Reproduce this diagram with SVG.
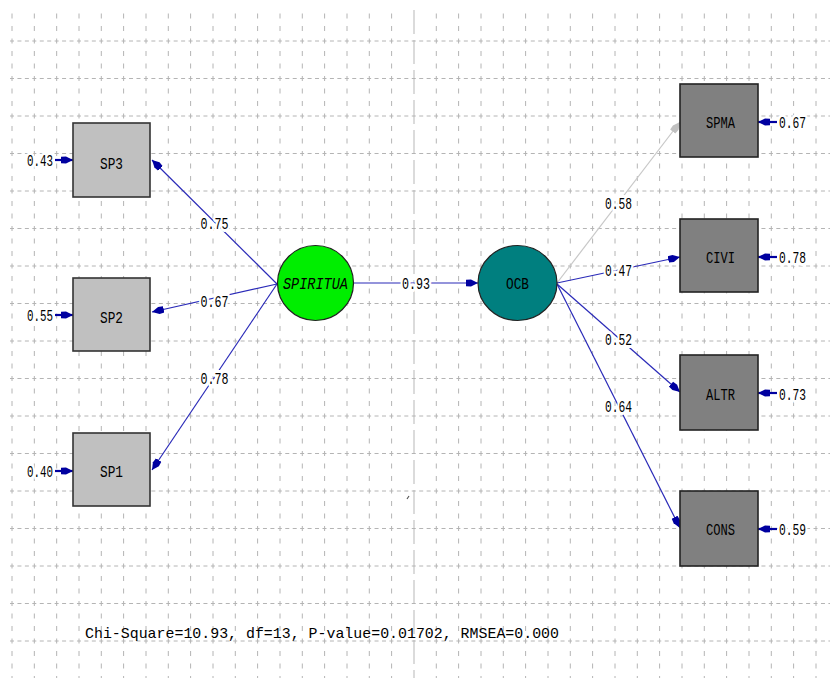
<svg xmlns="http://www.w3.org/2000/svg" width="830" height="678" viewBox="0 0 830 678">
<style>
.gv{stroke:#b4b4b4;stroke-width:1;stroke-dasharray:5 7.5;fill:none}
.gh{stroke:#b4b4b4;stroke-width:1;stroke-dasharray:4 3.44;fill:none}
.gc{stroke:#c4c4c4;stroke-width:1.2;stroke-dasharray:24 6;fill:none}
.obs1{fill:#c0c0c0;stroke:#333;stroke-width:1.6}
.obs2{fill:#808080;stroke:#222;stroke-width:1.6}
.lab{font-family:"Liberation Mono",monospace;font-size:17px;fill:#000;text-anchor:middle}
.num{font-family:"Liberation Mono",monospace;font-size:16px;fill:#000;paint-order:stroke;stroke:#fff;stroke-width:6px;stroke-linejoin:round}
.numc{text-anchor:middle}
.ln{stroke:#2a2ab8;stroke-width:1.2;fill:none;marker-end:url(#ah)}
.lng{stroke:#c8c8c8;stroke-width:1.2;fill:none;marker-end:url(#ahg)}
.er{stroke:#0000a0;stroke-width:2.2;fill:none;marker-end:url(#ah)}
</style>
<defs>
<marker id="ah" markerUnits="userSpaceOnUse" markerWidth="14" markerHeight="10" viewBox="0 -5 14 10" refX="12" refY="0" orient="auto">
<path d="M0,-3.2 L5,-3.6 L12,0 L5,3.6 L0,3.2 Z" fill="#0000a0"/>
</marker>
<marker id="ahg" markerUnits="userSpaceOnUse" markerWidth="14" markerHeight="10" viewBox="0 -5 14 10" refX="12" refY="0" orient="auto">
<path d="M0,-3.2 L5,-3.6 L12,0 L5,3.6 L0,3.2 Z" fill="#c0c0c0"/>
</marker>
</defs>
<rect width="830" height="678" fill="#fff"/>
<g id="grid">
<path class="gv" d="M12,13.5V678M34.33,13.5V678M56.66,13.5V678M79,13.5V678M101.3,13.5V678M123.6,13.5V678M146,13.5V678M168.3,13.5V678M190.6,13.5V678M213,13.5V678M235.3,13.5V678M257.6,13.5V678M280,13.5V678M302.3,13.5V678M324.6,13.5V678M347,13.5V678M369.3,13.5V678M391.6,13.5V678M436.3,13.5V678M458.6,13.5V678M481,13.5V678M503.3,13.5V678M525.6,13.5V678M548,13.5V678M570.3,13.5V678M592.6,13.5V678M615,13.5V678M637.3,13.5V678M659.6,13.5V678M682,13.5V678M704.3,13.5V678M726.6,13.5V678M749,13.5V678M771.3,13.5V678M793.6,13.5V678M816,13.5V678"/>
<path class="gc" d="M414,10V678"/>
<path class="gh" d="M10,41H830M10,78.5H830M10,116H830M10,153.5H830M10,191H830M10,228.5H830M10,266H830M10,303.5H830M10,341H830M10,378.5H830M10,416H830M10,453.5H830M10,491H830M10,528.5H830M10,566H830M10,603.5H830M10,641H830"/>
<path d="M409,496 L407,499" stroke="#555" stroke-width="1.2" fill="none"/>
</g>
<g id="connectors">
<line class="ln" x1="277" y1="284" x2="152" y2="160"/>
<line class="ln" x1="277" y1="284" x2="152" y2="312"/>
<line class="ln" x1="277" y1="284" x2="152" y2="470"/>
<line class="ln" x1="354" y1="283" x2="478" y2="283"/>
<line class="lng" x1="557" y1="283" x2="680" y2="122"/>
<line class="ln" x1="557" y1="283" x2="680" y2="257"/>
<line class="ln" x1="557" y1="284" x2="680" y2="392"/>
<line class="ln" x1="557" y1="284" x2="680" y2="528"/>
<line class="er" x1="55" y1="160" x2="73" y2="160"/>
<line class="er" x1="55" y1="315" x2="73" y2="315"/>
<line class="er" x1="55" y1="471" x2="73" y2="471"/>
<line class="er" x1="777" y1="122" x2="758" y2="122"/>
<line class="er" x1="777" y1="257" x2="758" y2="257"/>
<line class="er" x1="777" y1="393" x2="758" y2="393"/>
<line class="er" x1="777" y1="529" x2="758" y2="529"/>
<text class="num numc" x="214.5" y="229" textLength="28" lengthAdjust="spacingAndGlyphs">0.75</text>
<text class="num numc" x="214.5" y="307" textLength="28" lengthAdjust="spacingAndGlyphs">0.67</text>
<text class="num numc" x="214.5" y="384" textLength="28" lengthAdjust="spacingAndGlyphs">0.78</text>
<text class="num numc" x="416" y="289" textLength="28" lengthAdjust="spacingAndGlyphs">0.93</text>
<text class="num numc" x="618.5" y="209" textLength="27" lengthAdjust="spacingAndGlyphs">0.58</text>
<text class="num numc" x="618.5" y="276" textLength="27" lengthAdjust="spacingAndGlyphs">0.47</text>
<text class="num numc" x="618.5" y="345" textLength="27" lengthAdjust="spacingAndGlyphs">0.52</text>
<text class="num numc" x="618.5" y="412" textLength="27" lengthAdjust="spacingAndGlyphs">0.64</text>
<text class="num numc" x="40" y="166" textLength="26" lengthAdjust="spacingAndGlyphs">0.43</text>
<text class="num numc" x="40" y="321" textLength="26" lengthAdjust="spacingAndGlyphs">0.55</text>
<text class="num numc" x="40" y="477" textLength="26" lengthAdjust="spacingAndGlyphs">0.40</text>
<text class="num numc" x="792.5" y="128" textLength="27" lengthAdjust="spacingAndGlyphs">0.67</text>
<text class="num numc" x="792.5" y="263" textLength="27" lengthAdjust="spacingAndGlyphs">0.78</text>
<text class="num numc" x="792.5" y="400" textLength="27" lengthAdjust="spacingAndGlyphs">0.73</text>
<text class="num numc" x="792.5" y="535" textLength="27" lengthAdjust="spacingAndGlyphs">0.59</text>
</g>
<g id="SP3"><rect class="obs1" x="73" y="123" width="77" height="74"/><text class="lab" x="111.5" y="169" textLength="23" lengthAdjust="spacingAndGlyphs">SP3</text></g>
<g id="SP2"><rect class="obs1" x="73" y="278" width="77" height="73"/><text class="lab" x="111.5" y="323" textLength="23" lengthAdjust="spacingAndGlyphs">SP2</text></g>
<g id="SP1"><rect class="obs1" x="73" y="433" width="77" height="73"/><text class="lab" x="111.5" y="477" textLength="23" lengthAdjust="spacingAndGlyphs">SP1</text></g>
<g id="SPIRITUA"><ellipse cx="315.5" cy="283" rx="38" ry="37.5" fill="#00ee00" stroke="#222" stroke-width="1.2"/><text class="lab" x="315.5" y="289" font-style="italic" textLength="65" lengthAdjust="spacingAndGlyphs">SPIRITUA</text></g>
<g id="OCB"><ellipse cx="517.5" cy="283" rx="39.5" ry="37.5" fill="#007f7f" stroke="#222" stroke-width="1.2"/><text class="lab" x="517.5" y="289" textLength="23" lengthAdjust="spacingAndGlyphs">OCB</text></g>
<g id="SPMA"><rect class="obs2" x="680" y="84" width="78" height="73"/><text class="lab" x="720.5" y="128" textLength="29" lengthAdjust="spacingAndGlyphs">SPMA</text></g>
<g id="CIVI"><rect class="obs2" x="680" y="219" width="78" height="73"/><text class="lab" x="720.5" y="263" textLength="29" lengthAdjust="spacingAndGlyphs">CIVI</text></g>
<g id="ALTR"><rect class="obs2" x="680" y="355" width="78" height="75"/><text class="lab" x="720.5" y="400" textLength="29" lengthAdjust="spacingAndGlyphs">ALTR</text></g>
<g id="CONS"><rect class="obs2" x="680" y="491" width="78" height="75"/><text class="lab" x="720.5" y="535" textLength="29" lengthAdjust="spacingAndGlyphs">CONS</text></g>
<text x="85" y="638" font-family="Liberation Mono, monospace" font-size="15" fill="#000" textLength="474" lengthAdjust="spacingAndGlyphs">Chi-Square=10.93, df=13, P-value=0.01702, RMSEA=0.000</text>
</svg>
